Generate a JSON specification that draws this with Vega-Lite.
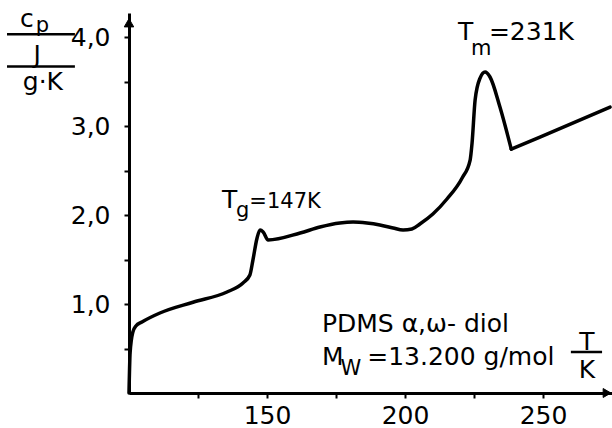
{
  "$schema": "https://vega.github.io/schema/vega-lite/v6.json",
  "width": 483,
  "height": 380,
  "autosize": {"type": "none"},
  "padding": {"left": 129, "top": 13, "right": 0, "bottom": 35},
  "background": "white",
  "config": {"view": {"stroke": null}, "font": "DejaVu Sans"},
  "datasets": {
    "curve": [
      {"T": 100.0, "cp": 0.0},
      {"T": 100.4, "cp": 0.45},
      {"T": 101.4, "cp": 0.685},
      {"T": 102.5, "cp": 0.753},
      {"T": 104.7, "cp": 0.798},
      {"T": 111.2, "cp": 0.899},
      {"T": 123.2, "cp": 1.02},
      {"T": 135.5, "cp": 1.135},
      {"T": 141.3, "cp": 1.236},
      {"T": 143.8, "cp": 1.326},
      {"T": 144.9, "cp": 1.494},
      {"T": 146.4, "cp": 1.742},
      {"T": 147.5, "cp": 1.831},
      {"T": 148.6, "cp": 1.809},
      {"T": 150.4, "cp": 1.719},
      {"T": 162.0, "cp": 1.798},
      {"T": 169.2, "cp": 1.865},
      {"T": 176.4, "cp": 1.91},
      {"T": 181.2, "cp": 1.921},
      {"T": 186.2, "cp": 1.91},
      {"T": 190.9, "cp": 1.888},
      {"T": 195.7, "cp": 1.854},
      {"T": 199.3, "cp": 1.831},
      {"T": 202.5, "cp": 1.843},
      {"T": 205.4, "cp": 1.899},
      {"T": 210.1, "cp": 2.011},
      {"T": 215.2, "cp": 2.18},
      {"T": 220.7, "cp": 2.416},
      {"T": 223.6, "cp": 2.618},
      {"T": 224.3, "cp": 2.809},
      {"T": 225.4, "cp": 3.292},
      {"T": 227.2, "cp": 3.539},
      {"T": 229.0, "cp": 3.607},
      {"T": 230.8, "cp": 3.551},
      {"T": 234.4, "cp": 3.213},
      {"T": 238.5, "cp": 2.74}
    ],
    "tail": [
      {"T": 238.5, "cp": 2.74},
      {"T": 248.9, "cp": 2.876},
      {"T": 274.3, "cp": 3.213}
    ],
    "notes": [
      {"T": 133.7, "cp": 2.079, "label": "T", "kind": "main"},
      {"T": 138.8, "cp": 1.978, "label": "g", "kind": "sub"},
      {"T": 143.6, "cp": 2.079, "label": "=147K", "kind": "sub"},
      {"T": 219.2, "cp": 3.966, "label": "T", "kind": "main"},
      {"T": 223.9, "cp": 3.798, "label": "m", "kind": "sub"},
      {"T": 230.4, "cp": 3.966, "label": "=231K", "kind": "main"},
      {"T": 169.9, "cp": 0.685, "label": "PDMS α,ω- diol", "kind": "main"},
      {"T": 169.9, "cp": 0.315, "label": "M", "kind": "main"},
      {"T": 176.6, "cp": 0.202, "label": "W", "kind": "sub"},
      {"T": 186.3, "cp": 0.315, "label": "=13.200 g/mol", "kind": "main"},
      {"T": 60.5, "cp": 4.112, "label": "c", "kind": "main"},
      {"T": 66.2, "cp": 4.056, "label": "p", "kind": "sub"}
    ],
    "centered": [
      {"T": 66.7, "cp": 3.708, "label": "J"},
      {"T": 68.8, "cp": 3.404, "label": "g·K"},
      {"T": 265.9, "cp": 0.483, "label": "T"},
      {"T": 265.9, "cp": 0.169, "label": "K"}
    ],
    "bars": [
      {"T": 55.8, "T2": 80.4, "cp": 4.03},
      {"T": 55.8, "T2": 80.4, "cp": 3.67},
      {"T": 260.1, "T2": 271.4, "cp": 0.461}
    ],
    "uparrow": [
      {"T": 100, "cp": 4.16}
    ],
    "rightarrow": [
      {"T": 273.2, "cp": 0}
    ]
  },
  "encoding": {
    "x": {
      "field": "T",
      "type": "quantitative",
      "scale": {"domain": [100, 275], "nice": false, "zero": false},
      "axis": {
        "values": [125, 150, 175, 200, 225, 250],
        "format": "d",
        "labelExpr": "datum.value % 50 === 0 ? datum.label : ''",
        "title": null,
        "grid": false,
        "domainColor": "black",
        "domainWidth": 3,
        "tickColor": "black",
        "tickWidth": 2,
        "tickSize": 5,
        "labelFont": "DejaVu Sans",
        "labelFontSize": 25,
        "labelColor": "black",
        "labelPadding": 5,
        "labelFlush": false,
        "labelOverlap": false
      }
    },
    "y": {
      "field": "cp",
      "type": "quantitative",
      "scale": {"domain": [0, 4.27], "nice": false, "zero": false},
      "axis": {
        "values": [0.5, 1, 1.5, 2, 2.5, 3, 3.5, 4],
        "labelExpr": "datum.value % 1 === 0 ? replace(format(datum.value, '.1f'), '.', ',') : ''",
        "title": null,
        "grid": false,
        "domainColor": "black",
        "domainWidth": 3,
        "tickColor": "black",
        "tickWidth": 2,
        "tickSize": 5,
        "labelFont": "DejaVu Sans",
        "labelFontSize": 25,
        "labelColor": "black",
        "labelPadding": 14,
        "labelFlush": false,
        "labelOverlap": false
      }
    }
  },
  "layer": [
    {
      "data": {"name": "curve"},
      "mark": {"type": "line", "color": "black", "strokeWidth": 3.5, "interpolate": "monotone", "strokeJoin": "round", "strokeCap": "round"}
    },
    {
      "data": {"name": "tail"},
      "mark": {"type": "line", "color": "black", "strokeWidth": 3.5, "interpolate": "linear", "strokeJoin": "round", "strokeCap": "round"}
    },
    {
      "data": {"name": "bars"},
      "mark": {"type": "rule", "color": "black", "strokeWidth": 2.5},
      "encoding": {"x2": {"field": "T2"}}
    },
    {
      "data": {"name": "notes"},
      "mark": {"type": "text", "align": "left", "baseline": "alphabetic", "color": "black", "font": "DejaVu Sans"},
      "encoding": {
        "text": {"field": "label"},
        "size": {"field": "kind", "type": "nominal", "scale": {"domain": ["main", "sub"], "range": [25, 21]}, "legend": null}
      }
    },
    {
      "data": {"name": "centered"},
      "mark": {"type": "text", "align": "center", "baseline": "alphabetic", "color": "black", "font": "DejaVu Sans", "fontSize": 25},
      "encoding": {"text": {"field": "label"}}
    },
    {
      "data": {"name": "uparrow"},
      "mark": {"type": "point", "shape": "triangle-up", "size": 90, "filled": true, "fill": "black", "stroke": "black", "strokeWidth": 1, "opacity": 1}
    },
    {
      "data": {"name": "rightarrow"},
      "mark": {"type": "point", "shape": "triangle-right", "size": 80, "filled": true, "fill": "black", "stroke": "black", "strokeWidth": 1, "opacity": 1}
    }
  ]
}
